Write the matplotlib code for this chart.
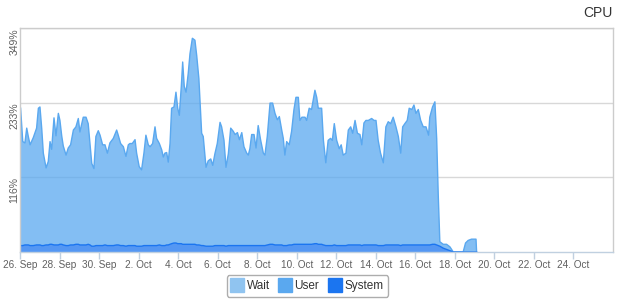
import matplotlib
matplotlib.use('Agg')
import matplotlib.pyplot as plt
from matplotlib.lines import Line2D

plt.rcParams['font.family'] = ['Liberation Sans', 'DejaVu Sans']

# days since 26 Sep
days = [0.03, 0.14, 0.25, 0.34, 0.42, 0.51, 0.67, 0.84, 0.93, 1.01,
        1.10, 1.18, 1.32, 1.43, 1.52, 1.60, 1.72, 1.82, 1.94, 2.02,
        2.11, 2.19, 2.33, 2.44, 2.56, 2.70, 2.83, 2.95, 3.03, 3.20,
        3.34, 3.45, 3.54, 3.63, 3.74, 3.84, 3.96, 4.05, 4.18, 4.30,
        4.42, 4.55, 4.72, 4.89, 4.97, 5.09, 5.23, 5.36, 5.48, 5.56,
        5.68, 5.82, 5.90, 6.03, 6.15, 6.27, 6.37, 6.49, 6.58, 6.71,
        6.83, 6.91, 7.05, 7.17, 7.25, 7.33, 7.42, 7.50, 7.59, 7.67,
        7.79, 7.89, 7.98, 8.06, 8.16, 8.23, 8.31, 8.40, 8.51, 8.60,
        8.72, 8.85, 8.94, 9.05, 9.19, 9.27, 9.41, 9.52, 9.65, 9.75,
        9.86, 9.98, 10.12, 10.20, 10.32, 10.42, 10.54, 10.66, 10.79, 10.88,
        11.00, 11.10, 11.22, 11.33, 11.47, 11.55, 11.63, 11.72, 11.84, 11.94,
        12.05, 12.17, 12.31, 12.39, 12.51, 12.65, 12.78, 12.90, 13.02, 13.12,
        13.24, 13.32, 13.40, 13.49, 13.62, 13.74, 13.86, 13.96, 14.08, 14.16,
        14.26, 14.42, 14.50, 14.63, 14.75, 14.92, 15.01, 15.09, 15.26, 15.35,
        15.47, 15.59, 15.71, 15.80, 15.90, 16.02, 16.15, 16.25, 16.35, 16.49,
        16.61, 16.73, 16.83, 16.95, 17.07, 17.20, 17.29, 17.40, 17.50, 17.62,
        17.79, 17.91, 18.01, 18.12, 18.24, 18.38, 18.51, 18.63, 18.75, 18.88,
        19.02, 19.14, 19.26, 19.36, 19.47, 19.59, 19.69, 19.82, 19.93, 20.03,
        20.15, 20.27, 20.40, 20.54, 20.67, 20.73, 20.87, 20.99, 21.08, 21.16,
        21.24, 21.41, 21.58, 21.75, 21.92, 22.42, 22.54, 22.67, 22.84, 23.07,
        23.10]

system = [10, 10, 11, 11, 11, 10, 10, 11, 11, 11,
          10, 10, 11, 11, 12, 12, 11, 11, 11, 12,
          12, 11, 10, 10, 11, 11, 12, 12, 11, 11,
          11, 12, 11, 9, 9, 10, 10, 10, 10, 11,
          10, 10, 10, 11, 11, 10, 10, 9, 10, 10,
          10, 10, 9, 9, 9, 10, 10, 10, 10, 10,
          10, 10, 11, 10, 10, 10, 11, 11, 12, 13,
          14, 14, 13, 13, 13, 12, 12, 12, 12, 12,
          12, 12, 11, 11, 10, 10, 9, 9, 9, 9,
          10, 10, 10, 10, 10, 9, 10, 10, 10, 10,
          10, 10, 10, 10, 10, 10, 10, 10, 10, 10,
          10, 10, 10, 10, 11, 12, 12, 11, 11, 11,
          11, 10, 10, 10, 11, 11, 12, 12, 12, 12,
          12, 12, 12, 12, 12, 13, 13, 12, 12, 11,
          10, 10, 10, 10, 11, 10, 10, 10, 10, 10,
          11, 11, 11, 11, 11, 11, 10, 11, 11, 11,
          11, 11, 11, 10, 10, 10, 11, 11, 11, 11,
          11, 11, 10, 11, 11, 11, 11, 11, 11, 11,
          11, 11, 11, 11, 11, 11, 12, 12, 11, 10,
          9, 6, 4, 2, 0, 0, 0, 0, 0, 0,
          0]

user = [214, 162, 159, 182, 169, 157, 168, 182, 213, 215,
        182, 144, 120, 130, 160, 148, 198, 170, 205, 193,
        169, 154, 141, 152, 156, 179, 183, 196, 176, 199,
        199, 188, 158, 129, 121, 170, 179, 172, 157, 156,
        144, 160, 167, 179, 171, 159, 154, 140, 157, 159,
        159, 165, 145, 124, 119, 144, 172, 157, 154, 159,
        185, 167, 158, 149, 138, 144, 144, 129, 157, 211,
        212, 235, 211, 200, 245, 284, 246, 237, 266, 297,
        321, 318, 295, 259, 175, 170, 123, 133, 136, 126,
        143, 159, 192, 185, 164, 123, 143, 183, 178, 173,
        176, 165, 176, 154, 144, 141, 151, 173, 173, 152,
        187, 165, 144, 141, 169, 220, 220, 205, 195, 200,
        179, 167, 141, 162, 156, 177, 210, 229, 229, 193,
        198, 198, 193, 212, 210, 239, 228, 212, 212, 163,
        129, 164, 167, 164, 189, 164, 151, 157, 141, 144,
        179, 184, 174, 194, 174, 172, 157, 190, 194, 194,
        197, 194, 194, 164, 144, 129, 184, 192, 189, 199,
        184, 169, 144, 184, 189, 194, 213, 211, 218, 205,
        211, 194, 184, 184, 171, 199, 214, 222, 166, 78,
        7, 6, 8, 6, 0, 0, 14, 18, 20, 20,
        0]

y_ticks = [116.33, 232.67, 349]
y_labels = ['116%', '233%', '349%']
x_ticks = [0, 2, 4, 6, 8, 10, 12, 14, 16, 18, 20, 22, 24, 26, 28]
x_labels = ['26. Sep', '28. Sep', '30. Sep', '2. Oct', '4. Oct', '6. Oct',
            '8. Oct', '10. Oct', '12. Oct', '14. Oct', '16. Oct', '18. Oct',
            '20. Oct', '22. Oct', '24. Oct']

c_wait = '#90c4f0'
c_user = '#5aa8ef'
c_sys = '#1b75f0'

fig = plt.figure(figsize=(6.22, 3.0), dpi=100)
ax = fig.add_axes([20 / 622, 48 / 300, 593 / 622, 224 / 300])

ax.stackplot(days, system, user, colors=[c_sys, c_user], alpha=0.75, linewidth=0)
top = [s + u for s, u in zip(system, user)]
ax.plot(days, top, color=c_user, lw=1)
ax.plot(days, system, color=c_sys, lw=1)

ax.set_xlim(0, 30)
ax.set_ylim(0, 349)
ax.set_yticks(y_ticks)
ax.set_yticklabels(y_labels, rotation=90, va='top', ha='center')
ax.set_xticks(x_ticks)
ax.set_xticklabels(x_labels)
ax.grid(axis='y', color='#d8d8d8', lw=1)
ax.set_axisbelow(True)
ax.tick_params(axis='y', length=0, pad=4, labelsize=7.5, labelcolor='#606060')
ax.tick_params(axis='x', length=5, width=1, color='#c0d0e0', pad=1,
               labelsize=7.2, labelcolor='#606060')
for s in ax.spines.values():
    s.set_color('#cccccc')
    s.set_linewidth(1)
ax.spines['bottom'].set_color('#c0d0e0')

fig.text(0.985, 0.957, 'CPU', ha='right', va='center', fontsize=10, color='#333333')

handles = [Line2D([], [], marker='s', ls='none', markersize=10, color=c)
           for c in (c_wait, c_user, c_sys)]
leg = fig.legend(handles, ['Wait', 'User', 'System'], loc='center',
                 bbox_to_anchor=(0.494, 0.047), ncol=3, fontsize=8.5,
                 frameon=True, fancybox=True, handletextpad=0.3,
                 columnspacing=0.8, handlelength=1.0, borderpad=0.4)
leg.get_frame().set_edgecolor('#999999')
leg.get_frame().set_linewidth(1)
for t in leg.get_texts():
    t.set_color('#333333')

fig.savefig('out.png', dpi=100)
